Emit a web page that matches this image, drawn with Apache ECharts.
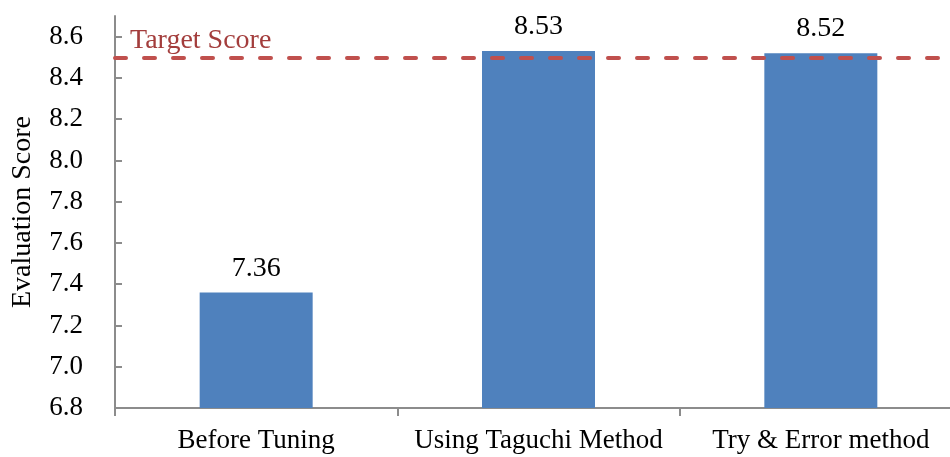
<!DOCTYPE html>
<html>
<head>
<meta charset="utf-8">
<script src="https://cdn.jsdelivr.net/npm/echarts@6/dist/echarts.min.js"></script>
<style>
  html, body { margin: 0; padding: 0; background: #fff; }
  #chart { width: 950px; height: 457px; }
</style>
</head>
<body>
<div id="chart"></div>
<script>
// Evaluation scores for each tuning approach
const categories = ['Before Tuning', 'Using Taguchi Method', 'Try & Error method'];
const scores = [7.36, 8.53, 8.52];
const targetScore = 8.5;
const targetLabel = 'Target Score';
const yTicks = [6.8, 7.0, 7.2, 7.4, 7.6, 7.8, 8.0, 8.2, 8.4, 8.6];

const serif = "'Liberation Serif', 'Times New Roman', serif";
const axisGray = '#8c8c8c';

const chart = echarts.init(document.getElementById('chart'), null, { renderer: 'canvas' });

chart.setOption({
  animation: false,
  backgroundColor: '#ffffff',
  // the plot runs slightly past the right edge of the canvas
  grid: { left: 115, width: 847, top: 16, bottom: 49, outerBoundsMode: 'none' },
  xAxis: {
    type: 'category',
    data: categories,
    axisLine: { lineStyle: { color: axisGray, width: 2 } },
    axisTick: { show: true, length: 8, lineStyle: { color: axisGray, width: 2 } },
    axisLabel: { color: '#000', fontFamily: serif, fontSize: 27, margin: 19, interval: 0 },
    splitLine: { show: false }
  },
  yAxis: {
    type: 'value',
    min: 6.8,
    max: 8.7,
    name: 'Evaluation Score',
    nameLocation: 'middle',
    nameGap: 78,
    nameTextStyle: { color: '#000', fontFamily: serif, fontSize: 28 },
    axisLine: { show: true, lineStyle: { color: axisGray, width: 2 } },
    axisTick: { show: true, inside: true, length: 7, customValues: yTicks, lineStyle: { color: axisGray, width: 2 } },
    axisLabel: {
      color: '#000', fontFamily: serif, fontSize: 27, margin: 32,
      customValues: yTicks,
      formatter: v => Number(v).toFixed(1)
    },
    splitLine: { show: false }
  },
  series: [{
    type: 'bar',
    data: scores,
    barWidth: 113,
    itemStyle: { color: '#4f81bd' },
    label: {
      show: true,
      position: 'top',
      distance: 10,
      color: '#000',
      fontFamily: serif,
      fontSize: 28,
      formatter: p => p.value.toFixed(2)
    },
    emphasis: { disabled: true },
    markLine: {
      silent: true,
      symbol: 'none',
      lineStyle: { color: '#c0504d', width: 4, type: [11, 18], cap: 'round' },
      label: {
        show: true,
        position: 'insideStartTop',
        formatter: targetLabel,
        color: '#a33d3c',
        fontFamily: serif,
        fontSize: 28,
        distance: [15, 3]
      },
      data: [{ yAxis: targetScore }]
    }
  }]
});
</script>
</body>
</html>
